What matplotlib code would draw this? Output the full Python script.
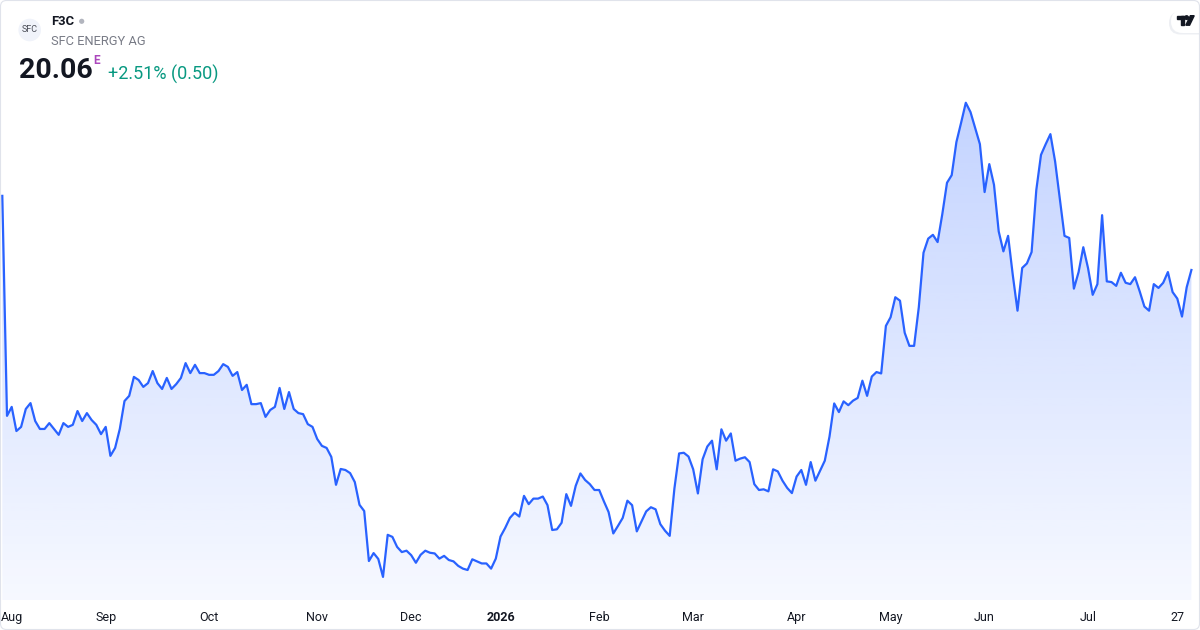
import numpy as np
import matplotlib
matplotlib.use("Agg")
import matplotlib.pyplot as plt
import matplotlib.patches as patches
from matplotlib.transforms import IdentityTransform

plt.rcParams['font.family'] = ['Roboto', 'DejaVu Sans']

# Header info
ticker = "F3C"
company = "SFC ENERGY AG"
last_price = 20.06
change_abs = 0.50
change_pct = 2.51

# Daily closes, Aug 2025 -> late Jul 2026
close = [
    22.21, 15.83, 16.09, 15.39, 15.51, 16.03, 16.20, 15.68, 15.45, 15.45,
    15.62, 15.45, 15.28, 15.62, 15.51, 15.57, 15.97, 15.68, 15.91, 15.71,
    15.57, 15.30, 15.51, 14.67, 14.90, 15.45, 16.26, 16.41, 16.96, 16.87,
    16.67, 16.78, 17.13, 16.78, 16.61, 16.93, 16.61, 16.75, 16.93, 17.36,
    17.07, 17.31, 17.07, 17.07, 17.02, 17.02, 17.13, 17.33, 17.25, 16.99,
    17.10, 16.58, 16.73, 16.17, 16.17, 16.20, 15.80, 16.00, 16.09, 16.64,
    16.03, 16.52, 16.03, 15.91, 15.88, 15.59, 15.51, 15.16, 14.96, 14.90,
    14.64, 13.83, 14.29, 14.26, 14.17, 13.91, 13.25, 13.07, 11.62, 11.85,
    11.68, 11.16, 12.38, 12.32, 12.03,
    11.88, 11.92, 11.79, 11.57, 11.80, 11.92, 11.86, 11.84, 11.69, 11.77,
    11.65, 11.61, 11.48, 11.40, 11.36, 11.67, 11.61, 11.55, 11.55, 11.40,
    11.69, 12.33, 12.58, 12.87, 13.02, 12.91, 13.51, 13.27, 13.43, 13.43,
    13.49, 13.24, 12.52, 12.54, 12.73, 13.56, 13.22, 13.80, 14.16, 13.97,
    13.85, 13.68, 13.68, 13.35, 13.04, 12.42, 12.64, 12.87, 13.37, 13.24,
    12.48, 12.77, 13.06, 13.18, 13.12, 12.69, 12.50, 12.35, 13.72, 14.74,
    14.76, 14.65, 14.28, 13.58, 14.57, 14.94, 15.11, 14.28, 15.44, 15.11,
    15.32, 14.53, 14.59, 14.63, 14.49, 13.85, 13.68, 13.70, 13.64, 14.28,
    14.22, 13.95, 13.74, 13.59,
    14.07, 14.26, 13.83, 14.49, 13.95, 14.24, 14.53, 15.23, 16.19, 15.94,
    16.25, 16.14, 16.27, 16.35, 16.85, 16.41, 16.97, 17.10, 17.06, 18.44,
    18.69, 19.27, 19.17, 18.24, 17.86, 17.86, 18.98, 20.56, 20.97, 21.08,
    20.87, 21.68, 22.59, 22.81, 23.77, 24.33, 24.91, 24.64, 24.18, 23.71,
    22.32, 23.13, 22.53, 21.18, 20.60, 21.05, 19.91, 18.88, 20.12, 20.25,
    20.58, 22.38, 23.40, 23.71, 24.00, 23.21, 22.13, 21.05, 20.99, 19.52,
    20.00, 20.72, 20.12, 19.34, 19.65, 21.65, 19.73, 19.71, 19.60, 19.98,
    19.69, 19.65, 19.85, 19.44, 19.00, 18.88, 19.65, 19.54, 19.69, 20.00,
    19.42, 19.23, 18.71, 19.56, 20.06,
]

tick_idx = [2, 22, 44, 67, 87, 106, 127, 147, 169, 189, 209, 231, 250]
tick_labels = ["Aug", "Sep", "Oct", "Nov", "Dec", "2026", "Feb", "Mar",
               "Apr", "May", "Jun", "Jul", "27"]

W, H = 1200, 630
fig = plt.figure(figsize=(W / 100, H / 100), dpi=100)
fig.patch.set_facecolor("white")

# plot area: full width, from top down to y=600px
ax = fig.add_axes([0, 30 / H, 1, 600 / H])
x = np.arange(len(close))
y = np.array(close)

step = 4.70
x0 = -2.3 / step
x1 = x0 + W / step
ymin, ymax = 10.49, 27.89

line_color = "#2962ff"

# gradient area under the line
poly = ax.fill_between(x, y, ymin, color="none", lw=0)
n = 256
alpha = np.linspace(0.28, 0.04, n)
rgba = np.zeros((n, 1, 4))
rgba[:, 0, 0] = 41 / 255
rgba[:, 0, 1] = 98 / 255
rgba[:, 0, 2] = 1.0
rgba[:, 0, 3] = alpha
im = ax.imshow(rgba, extent=[x[0], x[-1], ymin, y.max()], aspect="auto",
               origin="upper", zorder=1, interpolation="bilinear")
im.set_clip_path(poly.get_paths()[0], transform=ax.transData)

ax.plot(x, y, color=line_color, lw=1.6, zorder=3, solid_joinstyle="round")

ax.set_xlim(x0, x1)
ax.set_ylim(ymin, ymax)
ax.set_yticks([])
ax.set_xticks(tick_idx)
ax.set_xticklabels(tick_labels)
ax.tick_params(axis="x", length=0, pad=8, labelsize=9, labelcolor="#131722")
for lab in ax.get_xticklabels():
    if lab.get_text() == "2026":
        lab.set_fontweight("bold")
for s in ax.spines.values():
    s.set_visible(False)
ax.set_facecolor("none")


def fx(px):
    return px / W


def fy(py):
    return 1 - py / H


# header: logo circle
fig.patches.append(patches.Circle((29.7, H - 30), 11.3, transform=IdentityTransform(),
                                  facecolor="#f0f3fa", edgecolor="none"))
fig.text(fx(29.7), fy(30), "SFC", fontsize=6.5, color="#4a4d57",
         ha="center", va="center")

fig.text(fx(51), fy(21.5), ticker, fontsize=9.4, fontweight="bold",
         color="#131722", ha="left", va="center")
fig.patches.append(patches.Circle((81.7, H - 21.3), 2.6, transform=IdentityTransform(),
                                  facecolor="#b2b5be", edgecolor="none"))
fig.text(fx(51), fy(41.3), company, fontsize=9.3, color="#787b86",
         ha="left", va="center")

fig.text(fx(18.5), fy(70.5), f"{last_price:.2f}", fontsize=20.5, fontweight="bold",
         color="#131722", ha="left", va="center")
fig.text(fx(93.3), fy(61), "E", fontsize=8.5, fontweight="bold", color="#ab47bc",
         ha="left", va="center")
fig.text(fx(107.5), fy(74.5), f"+{change_pct:.2f}% ({change_abs:.2f})",
         fontsize=13, color="#089981", ha="left", va="center")

# TradingView badge top right
fig.patches.append(patches.FancyBboxPatch((1169, H - 34.5), 45, 23,
                                          boxstyle="round,pad=0,rounding_size=11.5",
                                          transform=IdentityTransform(),
                                          facecolor="#e9ebf0", edgecolor="none",
                                          alpha=0.8))
fig.patches.append(patches.FancyBboxPatch((1171, H - 33), 45, 23,
                                          boxstyle="round,pad=0,rounding_size=11.5",
                                          transform=IdentityTransform(),
                                          facecolor="white", edgecolor="none"))
tv = "#131722"
fig.patches.append(patches.Rectangle((1177.3, H - 19.2), 6.7, 3.5,
                                     transform=IdentityTransform(), color=tv))
fig.patches.append(patches.Rectangle((1180.8, H - 25.2), 3.2, 9.5,
                                     transform=IdentityTransform(), color=tv))
fig.patches.append(patches.Circle((1186.6, H - 17.6), 1.8,
                                  transform=IdentityTransform(), color=tv))
fig.patches.append(patches.Polygon([(1185.8, H - 25.2), (1189.6, H - 25.2),
                                    (1194.2, H - 15.7), (1190.4, H - 15.7)],
                                   transform=IdentityTransform(), color=tv))

# outer frame
fig.patches.append(patches.FancyBboxPatch((0.5, 0.5), W - 1, H - 1,
                                          boxstyle="round,pad=0,rounding_size=6",
                                          transform=IdentityTransform(),
                                          facecolor="none", edgecolor="#e0e3eb",
                                          lw=0.8))

fig.savefig("out.png", dpi=100)
